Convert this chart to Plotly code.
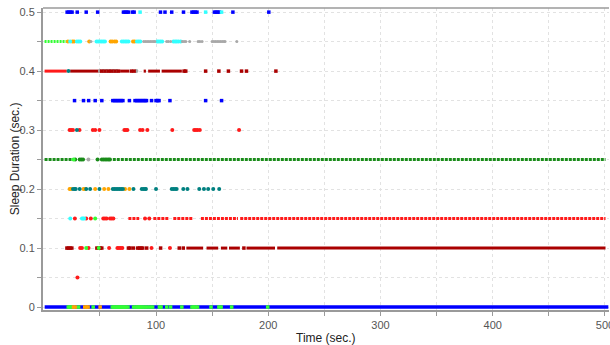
import plotly.graph_objects as go

# ---------------- data (time in sec.) ----------------
# row 0.5
blue_050 = [20.8, 22.3, 23.8, 25.2, 29.8, 37.8, 48, 71, 72.5, 74, 75.5, 79, 80.5, 104, 108, 114,
            124.5, 132, 133.5, 135, 136.5, 152, 153.5, 155, 156.5, 168.5, 200.5]
cyan_050 = [85.8, 144.2, 158.4]
# row 0.45
lime_045_runs = [[0.7, 20.5]]
orange_045 = [21.5, 25.5, 27, 40.5, 59.5, 61, 63, 64.5, 79.5, 81]
cyan_045 = [23.5, 29.5, 31, 32.5, 47, 48.5, 50, 51.5, 53, 54.5, 69.5, 71, 72.5, 74, 75.5, 83, 84.5,
            86, 101, 102.5, 104, 105.5, 115.5, 117, 118.5, 120, 122]
gray_045 = [42, 89, 90.5, 92, 93.5, 95, 96.5, 98, 99, 109.5, 111, 113, 123.5, 125, 126.5, 130,
            137.5, 139, 141, 150, 151.5, 153, 154.5, 156, 157.5, 159, 160.5, 161.5, 172]
# row 0.4
red_040_runs = [[0.7, 20.5]]
teal_040 = [22]
darkred_040_runs = [[23.5, 49], [68, 76], [89, 91], [93, 103.5], [105, 123]]
darkred_040 = [51.5, 54.5, 57.5, 60.5, 63.5, 66.5, 78, 80.5, 125, 126.5, 144.2, 156, 164.5,
               176.2, 180.6, 206.8]
gray_040 = [50, 53, 56, 59, 62, 65, 82.5]
# row 0.35
blue_035 = [27.4, 35.4, 40, 45.8, 51.7, 61.5, 63, 64.5, 66, 67.5, 69, 70.5, 76.3, 81.3, 82.8, 84.3,
            85.8, 87.3, 88.8, 90.3, 91.5, 96, 100, 101.5, 102.7, 112.4, 144.2, 158.4]
# row 0.3
red_030 = [23, 24.5, 26, 31.8, 43.7, 45.8, 49.6, 71.8, 73.2, 74.5, 85.8, 88, 92.3, 114.5, 134,
           135.5, 137, 139, 174]
teal_030 = [29.5]
# row 0.25
darkgreen_025_runs = [[0.7, 25], [61.5, 500.5]]
darkgreen_025 = [28, 32, 33.5, 35, 47.9, 51.7, 53.2, 54.7, 56.2, 57.7, 59]
lime_025 = [26.5]
gray_025 = [39.8]
# row 0.2
orange_020 = [23, 24.2, 35.4, 36.9, 45.8, 53.8, 57.6, 72.4, 76.3]
teal_020 = [26, 27.5, 28.5, 32, 37.8, 41.3, 49.6, 61.5, 63, 64.5, 66, 67.5, 69, 70.5, 79.9, 87.3,
            88.8, 90.3, 91, 100, 114, 115.5, 117, 118.4, 124.3, 128, 138.5, 142.7, 146.5, 151, 156.3]
# row 0.15
cyan_015 = [23.6, 34, 35, 36]
red_015 = [27.7, 37.8, 41.9, 53, 54.5, 56, 59, 60.5, 62, 90.2, 94]
red_015_runs = [[75.4, 85], [97.6, 111], [115.4, 133], [140, 173], [175, 500.5]]
lime_015 = [45.8]
# row 0.1
darkred_010 = [20.6, 22, 23.5, 25, 47.3, 48.8, 50.3, 51.7, 75.4, 76.9, 79.9, 83.7, 85.2, 86.7,
               88.2, 91.7, 104.1, 120.7, 124.3, 178.3]
red_010 = [32.4, 34, 39.9, 58.2, 65.6, 67, 68.5, 70, 96, 112.4]
lime_010 = [37.8, 49]
darkred_010_runs = [[127, 142], [145, 155.4], [157.8, 163.5], [165, 174.7], [180.6, 206], [208, 500.5]]
# row 0.05
red_005 = [30]
# row 0
blue_000_runs = [[0.8, 503]]
lime_000 = [21.8, 23.3, 24.8, 31, 44, 61, 62.5, 64, 65.5, 67, 68.5, 70, 71.5, 73, 75, 80, 82, 83.5,
            85, 86.5, 88, 90, 92, 94.5, 97, 103, 104.5, 109.5, 113, 123, 132, 133.5, 135, 137, 149,
            156, 158, 167.4, 199.5]
orange_000 = [26.5, 28, 36.5, 38, 39.5, 50.2]

y_ticks = [0, 0.1, 0.2, 0.3, 0.4, 0.5]
y_ticktext = ["0", "0.1", "0.2", "0.3", "0.4", "0.5"]
y_minor = [0.05, 0.15, 0.25, 0.35, 0.45]
x_ticks = [100, 200, 300, 400, 500]
x_minor = [50, 150, 250, 350, 450]
x_title = "Time (sec.)"
y_title = "Sleep Duration (sec.)"

# ---------------- colours ----------------
BLUE = "#0000FF"
CYAN = "#33FFFF"
LIME = "#33FF33"
ORANGE = "#FFA500"
RED = "#FF1A1A"
DARKRED = "#AA0000"
DARKGREEN = "#1A8C1A"
TEAL = "#008080"
GRAY = "#A8A8A8"

fig = go.Figure()


def add_runs(runs, y, color, dash="solid", width=3):
    xs, ys = [], []
    for a, b in runs:
        xs += [a, b, None]
        ys += [y, y, None]
    fig.add_trace(go.Scatter(x=xs, y=ys, mode="lines", hoverinfo="skip",
                             line=dict(color=color, width=width, dash=dash)))


def add_pts(xs, y, color, symbol="circle", size=4):
    fig.add_trace(go.Scatter(x=xs, y=[y] * len(xs), mode="markers",
                             marker=dict(color=color, size=size, symbol=symbol,
                                         line=dict(width=0))))


# row 0
add_runs(blue_000_runs, 0.0, BLUE, width=3.5)
add_pts(lime_000, 0.0, LIME, "square", 3.5)
add_pts(orange_000, 0.0, ORANGE, "square", 3.5)
# row 0.05
add_pts(red_005, 0.05, RED)
# row 0.1
add_runs(darkred_010_runs, 0.1, DARKRED, width=3)
add_pts(darkred_010, 0.1, DARKRED, "square", 3.5)
add_pts(red_010, 0.1, RED)
add_pts(lime_010, 0.1, LIME)
# row 0.15
add_runs(red_015_runs, 0.15, RED, dash="3px,1px", width=3)
add_pts(red_015, 0.15, RED)
add_pts(cyan_015, 0.15, CYAN)
add_pts(lime_015, 0.15, LIME)
# row 0.2
add_pts(orange_020, 0.2, ORANGE)
add_pts(teal_020, 0.2, TEAL)
# row 0.25
add_runs(darkgreen_025_runs, 0.25, DARKGREEN, dash="3px,1px", width=3)
add_pts(darkgreen_025, 0.25, DARKGREEN)
add_pts(lime_025, 0.25, LIME)
add_pts(gray_025, 0.25, GRAY)
# row 0.3
add_pts(red_030, 0.3, RED)
add_pts(teal_030, 0.3, TEAL)
# row 0.35
add_pts(blue_035, 0.35, BLUE, "square", 3.5)
# row 0.4
add_runs(red_040_runs, 0.4, RED, width=3)
add_runs(darkred_040_runs, 0.4, DARKRED, width=3)
add_pts(gray_040, 0.4, GRAY)
add_pts(darkred_040, 0.4, DARKRED, "square", 3.5)
add_pts(teal_040, 0.4, TEAL)
# row 0.45
add_runs(lime_045_runs, 0.45, LIME, dash="2px,1px", width=3)
add_pts(orange_045, 0.45, ORANGE)
add_pts(cyan_045, 0.45, CYAN)
add_pts(gray_045, 0.45, GRAY, size=3)
# row 0.5
add_pts(blue_050, 0.5, BLUE, "square", 3.5)
add_pts(cyan_050, 0.5, CYAN, "square", 3.5)

GRID = "#E2E2E2"
AXIS = "#9A9A9A"
FONT = "Liberation Sans, Arial, sans-serif"

fig.update_layout(
    width=610, height=345,
    margin=dict(l=43, r=1, t=8, b=35),
    paper_bgcolor="white", plot_bgcolor="white",
    showlegend=False,
    font=dict(family=FONT, size=11, color="#555555"),
    xaxis=dict(
        range=[-0.7, 503.6], tickmode="array", tickvals=x_ticks,
        automargin=False, ticklabeloverflow="allow",
        ticks="outside", ticklen=4, tickcolor=AXIS, tickwidth=1,
        showgrid=True, gridcolor=GRID, griddash="dot", gridwidth=1,
        showline=True, linecolor=AXIS, linewidth=2, zeroline=False,
        tickfont=dict(size=11, color="#555555"),
        minor=dict(tickmode="array", tickvals=x_minor, ticks="outside", ticklen=4,
                   tickcolor=AXIS, showgrid=True, gridcolor=GRID, griddash="dot"),
    ),
    yaxis=dict(
        range=[-0.005, 0.507], tickmode="array", tickvals=y_ticks, ticktext=y_ticktext,
        automargin=False,
        ticks="outside", ticklen=4, tickcolor=AXIS, tickwidth=1,
        showgrid=True, gridcolor=GRID, griddash="dot", gridwidth=1,
        showline=True, linecolor=AXIS, linewidth=2, zeroline=False,
        tickfont=dict(size=11, color="#555555"),
        minor=dict(tickmode="array", tickvals=y_minor, ticks="outside", ticklen=4,
                   tickcolor=AXIS, showgrid=True, gridcolor=GRID, griddash="dot"),
    ),
    shapes=[dict(type="line", xref="paper", yref="paper", x0=0, x1=1, y0=1, y1=1,
                 line=dict(color=AXIS, width=1.5))],
    annotations=[
        dict(text=x_title, xref="paper", yref="paper", x=0.5, y=-0.093,
             xanchor="center", yanchor="middle", showarrow=False,
             font=dict(size=12, color="#222222")),
        dict(text=y_title, xref="paper", yref="paper", x=-0.049, y=0.5, textangle=-90,
             xanchor="center", yanchor="middle", showarrow=False,
             font=dict(size=12, color="#222222")),
    ],
)

fig.write_html("out.html", config={"displayModeBar": False},
               post_script="document.body.style.margin='0';document.body.style.overflow='hidden';")
